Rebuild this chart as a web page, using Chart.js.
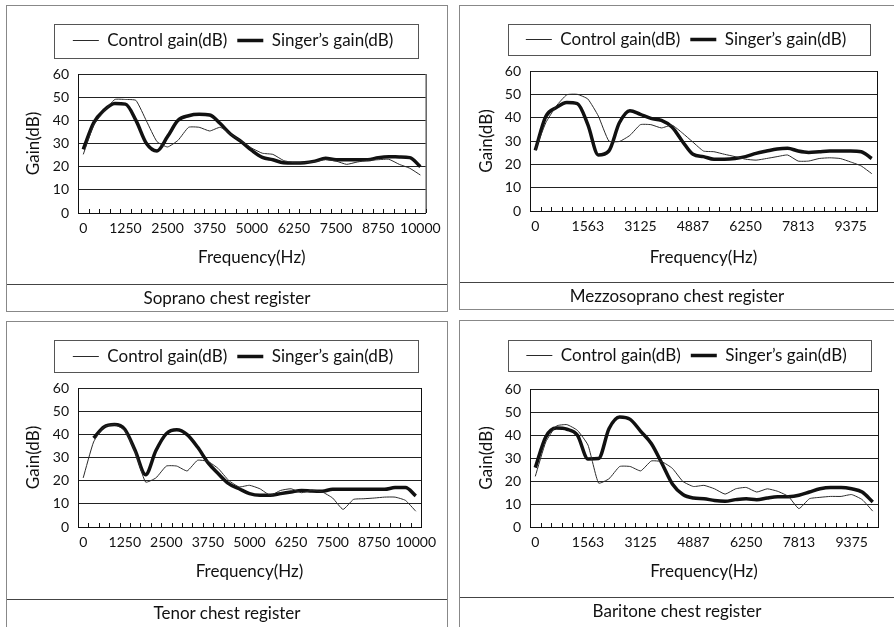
<!DOCTYPE html>
<html>
<head>
<meta charset="utf-8">
<script src="https://cdn.jsdelivr.net/npm/chart.js@4.4.0/dist/chart.umd.min.js"></script>
<style>
body { margin: 0; background: #fff; width: 894px; height: 627px; position: relative; overflow: hidden; font-family: Lato, sans-serif; }
.panel { position: absolute; border: 1px solid #888; box-sizing: border-box; }
.panel canvas { position: absolute; left: 0; top: 0; }
.caption { position: absolute; left: 0; right: 0; bottom: 0; border-top: 1px solid #444; text-align: center; font-size: 17px; color: #111; }
</style>
</head>
<body>
<div class="panel" id="p1" style="left:6px;top:5px;width:442px;height:307px;">
  <canvas id="c1" width="441" height="280"></canvas>
  <div class="caption" style="height:26px;line-height:26px;">Soprano chest register</div>
</div>
<div class="panel" id="p2" style="left:459px;top:5px;width:436px;height:305px;">
  <canvas id="c2" width="435" height="278"></canvas>
  <div class="caption" style="height:26px;line-height:26px;">Mezzosoprano chest register</div>
</div>
<div class="panel" id="p3" style="left:6px;top:321px;width:442px;height:307px;">
  <canvas id="c3" width="441" height="279"></canvas>
  <div class="caption" style="height:27px;line-height:26px;">Tenor chest register</div>
</div>
<div class="panel" id="p4" style="left:459px;top:320px;width:436px;height:308px;">
  <canvas id="c4" width="435" height="278"></canvas>
  <div class="caption" style="height:29px;line-height:26px;">Baritone chest register</div>
</div>
<script>
(function() {
// -----------------------------------------------------------------------------
// DATA
// -----------------------------------------------------------------------------
// frequency bins, 312.5 Hz apart
var frequencies = [
    0, 312.5, 625, 937.5, 1250, 1562.5, 1875, 2187.5, 2500, 2812.5, 3125,
    3437.5, 3750, 4062.5, 4375, 4687.5, 5000, 5312.5, 5625, 5937.5, 6250,
    6562.5, 6875, 7187.5, 7500, 7812.5, 8125, 8437.5, 8750, 9062.5, 9375,
    9687.5, 10000
];

// axis labels as printed (every 4th or every 5th bin)
var tickLabels4 = ['0', '1250', '2500', '3750', '5000', '6250', '7500', '8750', '10000'];
var tickLabels5 = ['0', '1563', '3125', '4887', '6250', '7813', '9375'];

var sopranoControl = [
    25.3, 38, 44, 49, 49, 48.6, 39.7, 30.8, 28.5, 31.4, 37,
    37, 35.4, 37, 34, 31, 28, 25.8, 25.3, 22.7, 21.7,
    21.7, 22.2, 23, 22.4, 21, 22, 22.7, 23, 23.2, 21,
    19.3, 16.4
];
var sopranoSinger = [
    27.5, 39, 44.5, 47.3, 47, 40, 30, 26.8, 33, 40, 42,
    42.6, 42.3, 38.6, 34, 30.8, 27, 24, 23, 21.7, 21.6,
    21.7, 22.4, 23.6, 23, 23, 23, 23, 23.9, 24.3, 24.2,
    23.9, 20
];

var mezzoControl = [
    26, 37.8, 45, 49.8, 50, 48, 40.7, 30, 29.8, 32.4, 37,
    37, 35.6, 36.8, 33.4, 29.5, 25.7, 25.4, 24.3, 23.3, 22.2,
    21.8, 22.5, 23.3, 24, 21.4, 21.4, 22.5, 22.8, 22.5, 21,
    19.3, 16
];
var mezzoSinger = [
    26, 40.5, 44.3, 46.5, 46, 37, 24, 25.7, 37.8, 43, 41.4,
    39.7, 38.8, 36, 29.8, 24.3, 23.3, 22.2, 22.2, 22.5, 23.3,
    24.7, 25.7, 26.6, 26.9, 25.7, 25.1, 25.4, 25.7, 25.7, 25.7,
    25.4, 22.5
];

var tenorControl = [
    21.2, 36.7, 43.2, 44.2, 41.7, 32.4, 19.4, 21.2, 26.3, 26.3, 24.2,
    28.8, 28.3, 25.2, 20.1, 17.3, 18, 16.5, 13.7, 15.8, 16.5,
    14.8, 15.8, 15.1, 12.5, 7.6, 11.9, 12.2, 12.5, 12.9, 12.9,
    11.5, 6.8
];
var tenorSinger = [
    null, 38.4, 43.2, 44.2, 42.2, 33, 22.6, 33, 40.3, 42, 39.9,
    34.5, 27.8, 23, 18.7, 16.5, 14.4, 13.7, 13.7, 14.4, 15.1,
    15.8, 15.5, 15.4, 16.3, 16.3, 16.3, 16.3, 16.3, 16.3, 17,
    17, 13.4
];

var baritoneControl = [
    22, 37, 43.9, 44.5, 42, 35.6, 19.1, 21, 26.3, 26.3, 24.4,
    28.7, 28.4, 25.5, 19.8, 17.6, 18.1, 16.6, 14.3, 16.6, 17.2,
    15.2, 16.6, 15.5, 13.3, 8, 12.3, 12.9, 13.3, 13.3, 14.1,
    11.9, 6.9
];
var baritoneSinger = [
    25.8, 39.2, 43, 42.5, 39.9, 29.6, 29.8, 42.8, 47.8, 46.8, 41.6,
    36.3, 27.7, 18.7, 14.1, 12.6, 12.3, 11.5, 11.2, 11.9, 12.3,
    11.9, 12.6, 13.1, 13.2, 13.8, 15.2, 16.6, 17.2, 17.2, 16.6,
    15.2, 10.9
];

// -----------------------------------------------------------------------------
// LAYOUT OF EACH PANEL (pixels inside its canvas)
// -----------------------------------------------------------------------------
var paneles = [
    { id: 'c1', control: sopranoControl, singer: sopranoSinger, labels: tickLabels4, every: 4,
      pad: { left: 0, top: 16, right: 22, bottom: 18 }, legendH: 52, yW: 71, xH: 55,
      box: [47, 18, 364, 34] },
    { id: 'c2', control: mezzoControl, singer: mezzoSinger, labels: tickLabels5, every: 5,
      pad: { left: 0, top: 15, right: 18, bottom: 16 }, legendH: 50, yW: 70, xH: 57,
      box: [48, 18, 362, 31] },
    { id: 'c3', control: tenorControl, singer: tenorSinger, labels: tickLabels4, every: 4,
      pad: { left: 0, top: 16, right: 27, bottom: 19 }, legendH: 50, yW: 71, xH: 55,
      box: [47, 18, 364, 32] },
    { id: 'c4', control: baritoneControl, singer: baritoneSinger, labels: tickLabels5, every: 5,
      pad: { left: 0, top: 16, right: 17, bottom: 17 }, legendH: 52, yW: 70, xH: 55,
      box: [48, 19, 363, 31] }
];

var tinta = '#111';
var fuente = 'Lato, sans-serif';

// legend height fixed, legend centred on its printed frame, frame + inner ticks drawn
var marcoPlugin = {
    id: 'marco',
    afterInit: function(chart) {
        var g = chart.options.plugins.marco;
        var lg = chart.legend;
        var fitOrig = lg.fit;
        lg.fit = function() {
            fitOrig.call(this);
            this.height = g.legendH;
        };
    },
    afterLayout: function(chart) {
        var g = chart.options.plugins.marco;
        var lg = chart.legend;
        var dx = (g.box[0] + g.box[2] / 2) - (lg.left + lg.right) / 2 - 3;
        lg.left += dx;
        lg.right += dx;
    },
    afterDraw: function(chart) {
        var g = chart.options.plugins.marco;
        var ctx = chart.ctx;
        var a = chart.chartArea;
        var xs = chart.scales.x;
        ctx.save();
        ctx.strokeStyle = tinta;
        ctx.lineWidth = 1;
        // right edge of plot
        ctx.beginPath();
        ctx.moveTo(a.right + 0.5, a.top);
        ctx.lineTo(a.right + 0.5, a.bottom);
        ctx.stroke();
        // small upward ticks between categories
        var n = xs.ticks.length;
        var paso = (xs.right - xs.left) / n;
        ctx.beginPath();
        for (var k = 0; k <= n; k++) {
            var x = Math.round(xs.left + k * paso) + 0.5;
            ctx.moveTo(x, a.bottom);
            ctx.lineTo(x, a.bottom - 4);
        }
        ctx.stroke();
        // legend frame
        ctx.strokeStyle = '#555';
        ctx.strokeRect(g.box[0] + 0.5, g.box[1] + 0.5, g.box[2], g.box[3]);
        ctx.restore();
    }
};

paneles.forEach(function(p) {
    var ctx = document.getElementById(p.id).getContext('2d');
    new Chart(ctx, {
        type: 'line',
        data: {
            labels: frequencies,
            datasets: [{
                label: 'Control gain(dB)',
                data: p.control,
                borderColor: '#2a2a2a',
                backgroundColor: '#2a2a2a',
                borderWidth: 1,
                pointRadius: 0,
                pointStyle: 'line',
                tension: 0.15,
                fill: false
            },
            {
                label: 'Singer\u2019s gain(dB)',
                data: p.singer,
                borderColor: tinta,
                backgroundColor: tinta,
                borderWidth: 3.5,
                pointRadius: 0,
                pointStyle: 'line',
                cubicInterpolationMode: 'monotone',
                fill: false
            }]
        },
        options: {
            responsive: false,
            animation: false,
            layout: { padding: p.pad },
            scales: {
                x: {
                    type: 'category',
                    offset: true,
                    grid: { display: false, drawTicks: false },
                    border: { display: true, color: tinta, width: 1 },
                    ticks: {
                        autoSkip: false,
                        maxRotation: 0,
                        padding: 7,
                        color: tinta,
                        font: { family: fuente, size: 14 },
                        callback: function(v, i) {
                            return i % p.every === 0 ? p.labels[i / p.every] : '';
                        }
                    },
                    title: {
                        display: true,
                        text: 'Frequency(Hz)',
                        color: tinta,
                        font: { family: fuente, size: 17 },
                        padding: { top: 0, bottom: 0 }
                    },
                    afterFit: function(s) { s.height = p.xH; }
                },
                y: {
                    min: 0,
                    max: 60,
                    ticks: {
                        stepSize: 10,
                        padding: 9,
                        color: tinta,
                        font: { family: fuente, size: 14 }
                    },
                    grid: { color: '#222', lineWidth: 1, drawTicks: false },
                    border: { display: true, color: tinta, width: 1 },
                    title: {
                        display: true,
                        text: 'Gain(dB)',
                        color: tinta,
                        font: { family: fuente, size: 17 },
                        padding: { top: 16, bottom: 0 }
                    },
                    afterFit: function(s) { s.width = p.yW; }
                }
            },
            plugins: {
                marco: p,
                tooltip: { enabled: false },
                legend: {
                    position: 'top',
                    labels: {
                        usePointStyle: true,
                        pointStyleWidth: 26,
                        padding: 10,
                        color: tinta,
                        font: { family: fuente, size: 17 }
                    }
                }
            }
        },
        plugins: [marcoPlugin]
    });
});
})();
</script>
</body>
</html>
